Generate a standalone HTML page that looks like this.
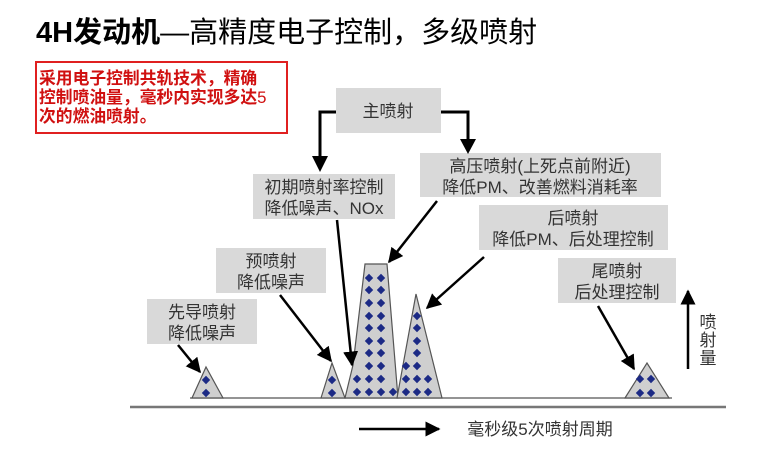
<!DOCTYPE html>
<html><head><meta charset="utf-8"><style>
html,body{margin:0;padding:0;background:#fff;}
body{width:764px;height:448px;overflow:hidden;}
text{font-family:"Liberation Sans","Noto Sans CJK SC",sans-serif;}
</style></head><body>
<svg width="764" height="448" viewBox="0 0 764 448" xmlns="http://www.w3.org/2000/svg">
<defs>
<marker id="ah" viewBox="0 0 10 10" refX="9" refY="5" markerWidth="6" markerHeight="6" orient="auto" markerUnits="strokeWidth">
<path d="M0,0 L10,5 L0,10 z" fill="#000"/></marker>
<g id="d"><path d="M0,-4.2 L4.2,0 L0,4.2 L-4.2,0 z" fill="#1c2a85"/></g>
</defs>
<text x="36" y="42" font-size="29" font-weight="bold" fill="#000">4H发动机<tspan font-weight="normal" font-size="29">—高精度电子控制，多级喷射</tspan></text>
<rect x="36" y="62" width="251" height="71" fill="#fff" stroke="#e02020" stroke-width="2"/>
<g font-size="16.8" font-weight="bold" fill="#d01010">
<text x="39" y="84">采用电子控制共轨技术，精确</text>
<text x="39" y="103">控制喷油量，毫秒内实现多达<tspan font-weight="normal">5</tspan></text>
<text x="39" y="122">次的燃油喷射。</text>
</g>
<g fill="#d9d9d9">
<rect x="336" y="88" width="105" height="45"/>
<rect x="420" y="153" width="241" height="44"/>
<rect x="253" y="174" width="142" height="45"/>
<rect x="479" y="205" width="189" height="45"/>
<rect x="216" y="248" width="110" height="45"/>
<rect x="558" y="258" width="118" height="45"/>
<rect x="147" y="299" width="110" height="45"/>
</g>
<g font-size="17" fill="#333" text-anchor="middle">
<text x="388" y="117">主喷射</text>
<text x="540" y="172">高压喷射(上死点前附近)</text>
<text x="540" y="193">降低PM、改善燃料消耗率</text>
<text x="324" y="193">初期喷射率控制</text>
<text x="324" y="214">降低噪声、NOx</text>
<text x="573" y="224">后喷射</text>
<text x="573" y="245">降低PM、后处理控制</text>
<text x="271" y="267">预喷射</text>
<text x="271" y="288">降低噪声</text>
<text x="617" y="277">尾喷射</text>
<text x="617" y="298">后处理控制</text>
<text x="202" y="318">先导喷射</text>
<text x="202" y="339">降低噪声</text>
<text x="708" y="328">喷</text>
<text x="708" y="346">射</text>
<text x="708" y="364">量</text>
<text x="540" y="435" font-size="17">毫秒级5次喷射周期</text>
</g>
<g stroke="#000" stroke-width="3" fill="none">
<polyline points="336,112 320,112 320,160"/>
<polyline points="441,112 468,112 468,142"/>
</g>
<path d="M312,156 L328,156 L320,172 z" fill="#000"/>
<path d="M460,139 L476,139 L468,154 z" fill="#000"/>
<line x1="190" y1="398" x2="672" y2="398" stroke="#555" stroke-width="1.2"/>
<line x1="130" y1="407" x2="726" y2="407" stroke="#777" stroke-width="2.5"/>
<g fill="#cfcfcf" stroke="#555" stroke-width="1.2">
<path d="M192,398 L206,367 L223,398 z"/>
<path d="M321,398 L332,363 L345,398 z"/>
<path d="M345,398 L353,365 L365,264 L387,264 L398,398 z"/>
<path d="M397,398 L416,294 L442,398 z"/>
<path d="M625,398 L647,363 L669,398 z"/>
</g>
<g>
<use href="#d" x="206" y="380"/><use href="#d" x="206" y="393"/>
<use href="#d" x="332" y="380"/><use href="#d" x="332" y="393"/>
<use href="#d" x="640" y="379"/><use href="#d" x="651" y="379"/>
<use href="#d" x="640" y="393"/><use href="#d" x="651" y="393"/>
<use href="#d" x="369" y="278"/><use href="#d" x="381" y="278"/>
<use href="#d" x="369" y="290"/><use href="#d" x="381" y="290"/>
<use href="#d" x="369" y="303"/><use href="#d" x="381" y="303"/>
<use href="#d" x="369" y="316"/><use href="#d" x="381" y="316"/>
<use href="#d" x="369" y="328"/><use href="#d" x="381" y="328"/>
<use href="#d" x="369" y="341"/><use href="#d" x="381" y="341"/>
<use href="#d" x="369" y="353"/><use href="#d" x="381" y="353"/>
<use href="#d" x="369" y="366"/><use href="#d" x="381" y="366"/>
<use href="#d" x="357" y="379"/><use href="#d" x="369" y="379"/><use href="#d" x="381" y="379"/>
<use href="#d" x="357" y="392"/><use href="#d" x="369" y="392"/><use href="#d" x="381" y="392"/><use href="#d" x="393" y="392"/>
<use href="#d" x="417" y="316"/><use href="#d" x="417" y="328"/><use href="#d" x="417" y="341"/><use href="#d" x="417" y="353"/>
<use href="#d" x="406" y="366"/><use href="#d" x="417" y="366"/>
<use href="#d" x="406" y="379"/><use href="#d" x="417" y="379"/><use href="#d" x="428" y="379"/>
<use href="#d" x="406" y="392"/><use href="#d" x="417" y="392"/><use href="#d" x="428" y="392"/>
</g>
<g stroke="#000" stroke-width="2.5" marker-end="url(#ah)">
<line x1="178" y1="345" x2="200" y2="372"/>
<line x1="280" y1="295" x2="331" y2="361"/>
<line x1="337" y1="220" x2="352" y2="365"/>
<line x1="437" y1="201" x2="389" y2="262"/>
<line x1="484" y1="257" x2="427" y2="308"/>
<line x1="598" y1="306" x2="634" y2="369"/>
<line x1="688" y1="369" x2="688" y2="291"/>
<line x1="359" y1="429" x2="439" y2="429"/>
</g>
</svg>
</body></html>
